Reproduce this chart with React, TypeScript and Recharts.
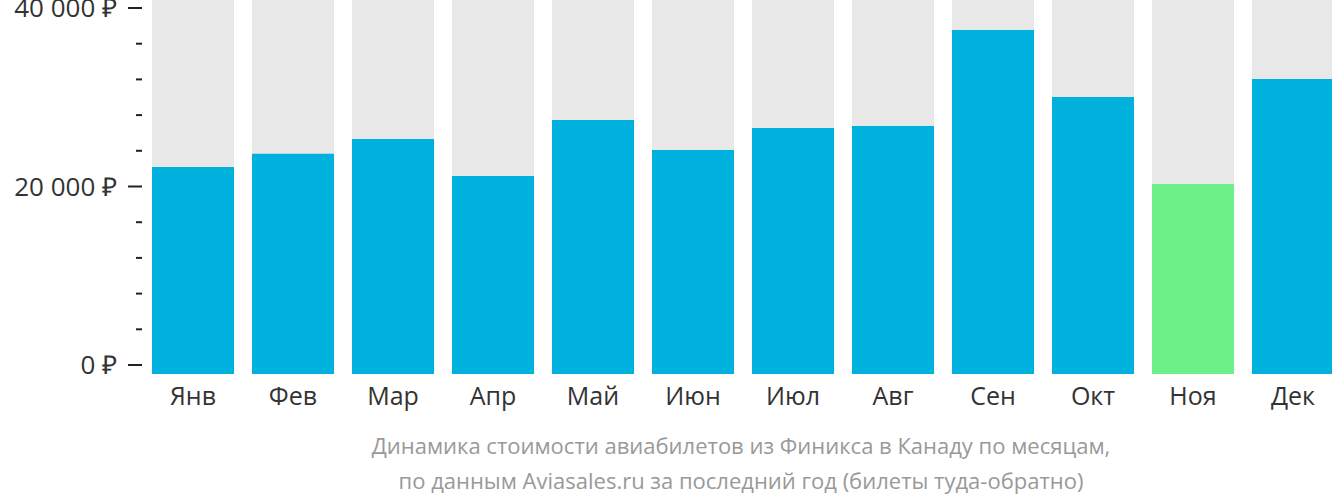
import React from 'react';
import { Bar, BarChart, Cell, XAxis, YAxis } from 'recharts';

const months = ['Янв', 'Фев', 'Мар', 'Апр', 'Май', 'Июн', 'Июл', 'Авг', 'Сен', 'Окт', 'Ноя', 'Дек'];
const prices = [22190, 23680, 25320, 21180, 27450, 24090, 26560, 26780, 37540, 30030, 20280, 32050];
const cheapestMonth = 'Ноя';
const yTicks = [0, 4000, 8000, 12000, 16000, 20000, 24000, 28000, 32000, 36000, 40000];
const labeledTicks = [0, 20000, 40000];
const footerLines = [
  'Динамика стоимости авиабилетов из Финикса в Канаду по месяцам,',
  'по данным Aviasales.ru за последний год (билеты туда-обратно)',
];

// bars start a little below the 0 tick, like in the original
const domainMin = -1008;
const domainMax = 40896;

const data = months.map((m, i) => ({ month: m, range: [domainMin, prices[i]] }));

const fmt = (v: number) => (v === 0 ? '0 ₽' : `${v / 1000} 000 ₽`);

const FONT = '"Open Sans", sans-serif';

function YTick(props: any) {
  const { x, y, payload } = props;
  const major = labeledTicks.includes(payload.value);
  return (
    <g>
      <line
        x1={major ? x - 15 : x - 7}
        x2={x - 1}
        y1={y}
        y2={y}
        stroke="#222"
        strokeWidth={2}
      />
      {major && (
        <text x={x - 26} y={y} dy="0.36em" textAnchor="end" fill="#333" fontSize={26} fontFamily={FONT}>
          {fmt(payload.value)}
        </text>
      )}
    </g>
  );
}

export default function App() {
  return (
    <div style={{ position: 'absolute', left: 0, top: 0, width: 1332, height: 502, overflow: 'hidden', background: '#fff' }}>
      <BarChart
        width={1343}
        height={502}
        data={data}
        margin={{ top: 0, right: 0, left: 0, bottom: 88 }}
      >
        <XAxis
          dataKey="month"
          height={40}
          axisLine={false}
          tickLine={false}
          tickSize={0}
          tickMargin={13}
          interval={0}
          tick={{ fill: '#333', fontSize: 25, fontFamily: FONT }}
        />
        <YAxis
          width={143}
          domain={[domainMin, domainMax]}
          ticks={yTicks}
          interval={0}
          axisLine={false}
          tickLine={false}
          tickSize={0}
          tickMargin={0}
          allowDataOverflow
          tick={<YTick />}
        />
        <Bar dataKey="range" barSize={82} background={{ fill: '#e8e8e8' }} isAnimationActive={false}>
          {data.map((d) => (
            <Cell key={d.month} fill={d.month === cheapestMonth ? '#6cf087' : '#00b0dd'} />
          ))}
        </Bar>
      </BarChart>
      {footerLines.map((t, i) => (
        <div
          key={i}
          style={{
            position: 'absolute',
            left: 141,
            width: 1200,
            top: 430 + i * 35,
            textAlign: 'center',
            fontFamily: FONT,
            fontSize: 22,
            lineHeight: '30px',
            color: '#999',
          }}
        >
          {t}
        </div>
      ))}
    </div>
  );
}
